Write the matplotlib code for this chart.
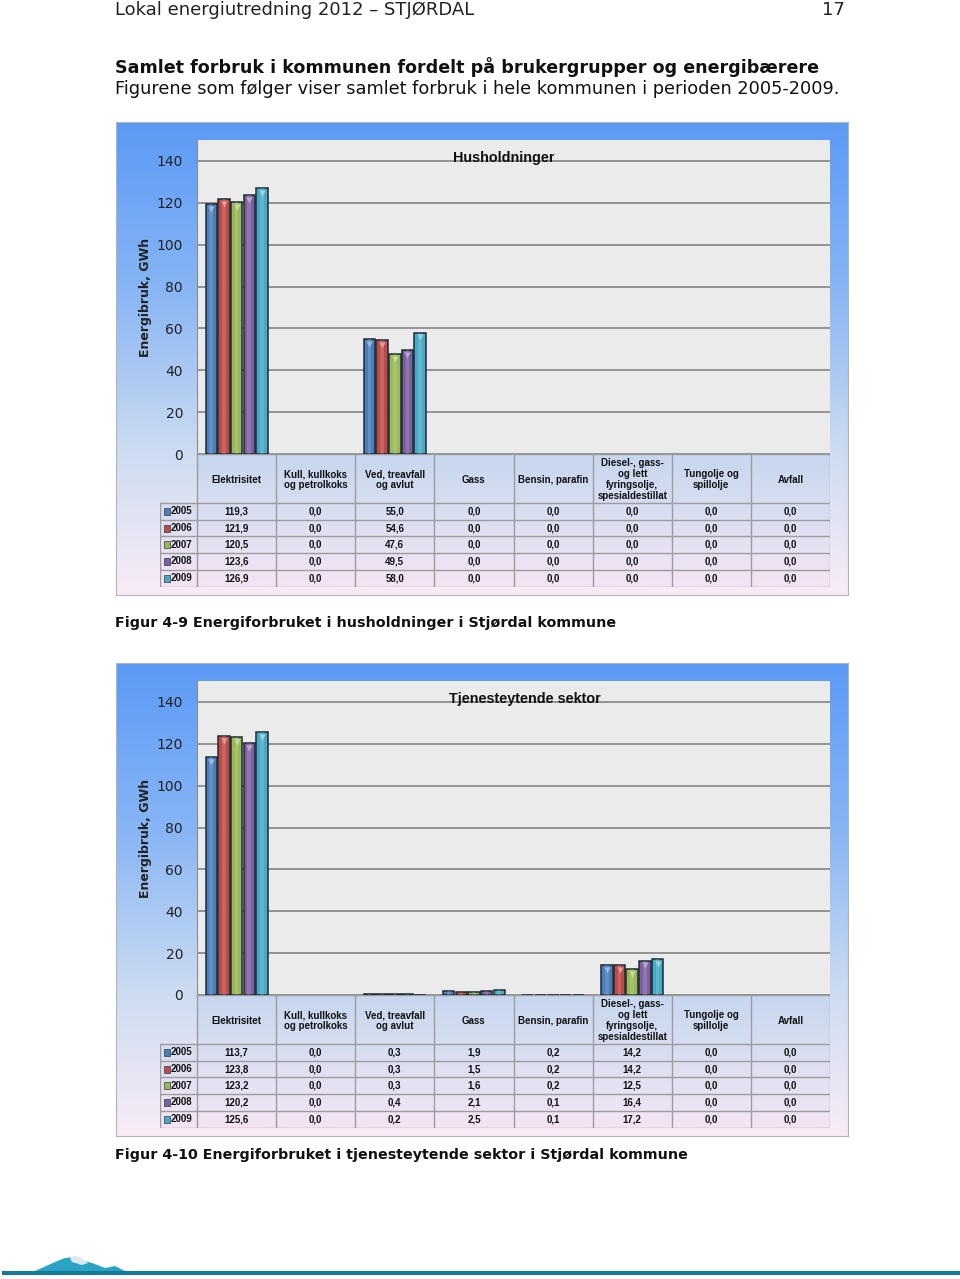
import numpy as np
import matplotlib.pyplot as plt
from matplotlib.colors import LinearSegmentedColormap, to_rgb
from matplotlib.patches import Rectangle

W, H = 960, 1279

categories = ["Elektrisitet", "Kull, kullkoks\nog petrolkoks", "Ved, treavfall\nog avlut", "Gass",
              "Bensin, parafin", "Diesel-, gass-\nog lett\nfyringsolje,\nspesialdestillat",
              "Tungolje og\nspillolje", "Avfall"]
years = ["2005", "2006", "2007", "2008", "2009"]
colors = ["#4a7ebb", "#be4b48", "#98b954", "#7d60a0", "#46aac5"]
yticks = [0, 20, 40, 60, 80, 100, 120, 140]

# husholdninger, GWh
hush_2005 = [119.3, 0.0, 55.0, 0.0, 0.0, 0.0, 0.0, 0.0]
hush_2006 = [121.9, 0.0, 54.6, 0.0, 0.0, 0.0, 0.0, 0.0]
hush_2007 = [120.5, 0.0, 47.6, 0.0, 0.0, 0.0, 0.0, 0.0]
hush_2008 = [123.6, 0.0, 49.5, 0.0, 0.0, 0.0, 0.0, 0.0]
hush_2009 = [126.9, 0.0, 58.0, 0.0, 0.0, 0.0, 0.0, 0.0]

# tjenesteytende sektor, GWh
tjen_2005 = [113.7, 0.0, 0.3, 1.9, 0.2, 14.2, 0.0, 0.0]
tjen_2006 = [123.8, 0.0, 0.3, 1.5, 0.2, 14.2, 0.0, 0.0]
tjen_2007 = [123.2, 0.0, 0.3, 1.6, 0.2, 12.5, 0.0, 0.0]
tjen_2008 = [120.2, 0.0, 0.4, 2.1, 0.1, 16.4, 0.0, 0.0]
tjen_2009 = [125.6, 0.0, 0.2, 2.5, 0.1, 17.2, 0.0, 0.0]

box_cmap = LinearSegmentedColormap.from_list(
    "box", [(0, "#5b9af6"), (0.35, "#87b5f4"), (0.7, "#cddcf1"), (1, "#f9ecf7")])
cell_cmap = LinearSegmentedColormap.from_list(
    "cell", [(0, "#c6d7ef"), (0.5, "#dcdff1"), (1, "#f5e4f4")])

fig = plt.figure(figsize=(W / 100, H / 100), dpi=100)


def rect(x0, y0, x1, y1):
    return [x0 / W, 1 - y1 / H, (x1 - x0) / W, (y1 - y0) / H]


def lighten(c, f=0.45):
    r = np.array(to_rgb(c))
    return tuple(r + (1 - r) * f)


def draw_chart(top, title, title_x, rows):
    # blue gradient frame
    bg = fig.add_axes(rect(116, top, 848, top + 473))
    bg.imshow(np.linspace(0, 1, 256)[:, None], aspect="auto", cmap=box_cmap, extent=[0, 1, 0, 1])
    bg.set_xticks([])
    bg.set_yticks([])
    for s in bg.spines.values():
        s.set_color("#b4b4b4")

    ax = fig.add_axes(rect(197, top + 18, 830, top + 332))
    ax.set_facecolor("#ebebeb")
    ax.set_xlim(-0.5, 7.5)
    ax.set_ylim(0, 150)
    ax.set_yticks(yticks)
    ax.set_xticks([])
    ax.yaxis.grid(True, color="#8c8c8c", lw=1.3)
    ax.set_axisbelow(True)
    ax.tick_params(axis="y", length=0, pad=10, labelsize=10, labelcolor="#222222")
    for s in ["top", "right", "bottom"]:
        ax.spines[s].set_visible(False)
    ax.spines["left"].set_color("#8c8c8c")

    w = 0.16
    xs = np.arange(len(categories))
    for k, (vals, c) in enumerate(zip(rows, colors)):
        vals = np.asarray(vals)
        x = xs + (k - 2) * w
        m = vals > 0
        ax.bar(x[m], vals[m], w * 0.9, color=c, edgecolor="#1d2b36", lw=1.1, zorder=3)
        ax.bar(x[m], vals[m], w * 0.3, color="white", alpha=0.15, lw=0, zorder=4)
        big = vals > 5
        ax.scatter(x[big], vals[big] - 2.3, marker="v", s=20, color=lighten(c), lw=0, zorder=5)

    fig.text(145 / W, 1 - (top + 175) / H, "Energibruk, GWh", rotation=90, ha="center", va="center",
             fontsize=9, fontweight="bold", color="#222222")
    fig.text(title_x / W, 1 - (top + 36) / H, title, ha="center", va="center",
             fontsize=10.4, fontweight="bold", family="Liberation Sans", color="#111111")

    # data table
    tb = fig.add_axes(rect(160, top + 332, 830, top + 465))
    left = -0.5 - 37 / 79.125
    hh = 49.0
    rh = (133 - hh) / 5
    tb.imshow(np.linspace(0, hh / 133, 64)[:, None], aspect="auto", cmap=cell_cmap, vmin=0, vmax=1,
              extent=[-0.5, 7.5, hh, 0])
    tb.imshow(np.linspace(hh / 133, 1, 64)[:, None], aspect="auto", cmap=cell_cmap, vmin=0, vmax=1,
              extent=[left, 7.5, 133, hh])
    tb.set_xlim(left, 7.5)
    tb.set_ylim(133.5, -0.5)
    tb.axis("off")
    lc = "#9c9c9c"
    for i in range(9):
        tb.plot([-0.5 + i, -0.5 + i], [0, 133], color=lc, lw=1)
    tb.plot([left, left], [hh, 133], color=lc, lw=1)
    tb.plot([-0.5, 7.5], [0, 0], color=lc, lw=1)
    for j in range(6):
        tb.plot([left, 7.5], [hh + j * rh, hh + j * rh], color=lc, lw=1)
    tf = dict(fontsize=7, fontweight="bold", family="Liberation Sans", color="#111111")
    for i, cat in enumerate(categories):
        tb.text(i, hh / 2 + 1, cat, ha="center", va="center", linespacing=1.12, **tf)
    for j, (yr, vals, c) in enumerate(zip(years, rows, colors)):
        yc = hh + (j + 0.5) * rh
        tb.add_patch(Rectangle((left + 4 / 79.125, yc - 3.5), 6 / 79.125, 7, facecolor=c,
                               edgecolor="#2a3a48", lw=0.5))
        tb.text(left + 11 / 79.125, yc, yr, ha="left", va="center", **tf)
        for i, v in enumerate(vals):
            tb.text(i, yc, f"{v:.1f}".replace(".", ","), ha="center", va="center", **tf)


fig.text(115 / W, 1 - 10 / H, "Lokal energiutredning 2012 \u2013 STJØRDAL", fontsize=13,
         va="center", color="#222222")
fig.text(845 / W, 1 - 10 / H, "17", fontsize=13, va="center", ha="right", color="#222222")
fig.text(115 / W, 1 - 67 / H, "Samlet forbruk i kommunen fordelt på brukergrupper og energibærere",
         fontsize=12.6, fontweight="bold", va="center", color="#111111")
fig.text(115 / W, 1 - 89 / H, "Figurene som følger viser samlet forbruk i hele kommunen i perioden 2005-2009.",
         fontsize=12.8, va="center", color="#111111")

draw_chart(122, "Husholdninger", 504,
           [hush_2005, hush_2006, hush_2007, hush_2008, hush_2009])
fig.text(115 / W, 1 - 623 / H, "Figur 4-9 Energiforbruket i husholdninger i Stjørdal kommune",
         fontsize=10.3, fontweight="bold", va="center", color="#111111")

draw_chart(663, "Tjenesteytende sektor", 525,
           [tjen_2005, tjen_2006, tjen_2007, tjen_2008, tjen_2009])
fig.text(115 / W, 1 - 1155 / H, "Figur 4-10 Energiforbruket i tjenesteytende sektor i Stjørdal kommune",
         fontsize=10.3, fontweight="bold", va="center", color="#111111")

# footer band with small mountain logo
ft = fig.add_axes(rect(0, 1240, 960, 1279))
ft.set_xlim(0, 960)
ft.set_ylim(1279, 1240)
ft.axis("off")
ft.add_patch(Rectangle((2, 1271), 958, 4, facecolor="#117b98", lw=0))
ft.fill([35, 55, 65, 75, 85, 95, 105, 115, 125, 35], [1271, 1262, 1258, 1257, 1261, 1264, 1268, 1266, 1271, 1271],
        color="#2aa3c4", lw=0)
ft.fill([70, 75, 80, 88, 82, 72], [1258, 1256, 1257, 1263, 1265, 1262], color="#dde9f0", lw=0)

fig.savefig("out.png", dpi=100)
